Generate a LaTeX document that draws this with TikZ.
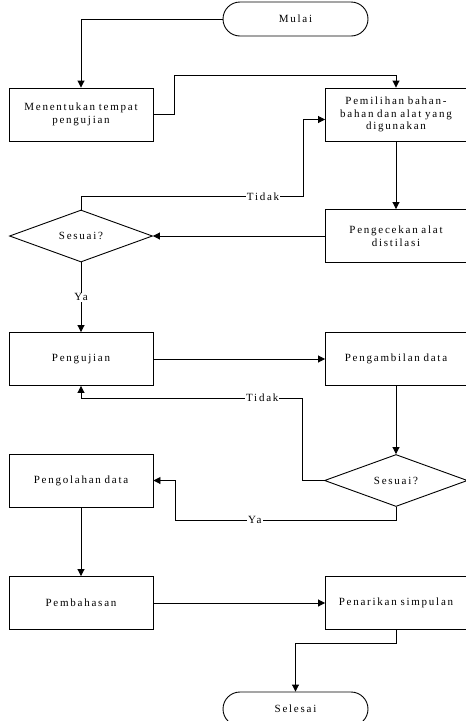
\documentclass[tikz,border=0pt]{standalone}
\usepackage{fontspec}
\setmainfont{Liberation Serif}[LetterSpace=16,WordSpace=1.8]
\usetikzlibrary{arrows.meta}
\usetikzlibrary{positioning}
\usetikzlibrary{shapes.geometric}
\usetikzlibrary{calc}
\tikzset{%
    every node/.style={font={\fontsize{11}{12.8}\selectfont}},
    box/.style={draw, rectangle, align=center, minimum height=53pt, inner sep=2pt, line width=0.9pt},
    lbox/.style={box, minimum width=144pt, text width=136pt},
    rbox/.style={box, minimum width=141pt, text width=137pt},
    terminal/.style={draw, rectangle, rounded corners=17pt, minimum width=145pt, minimum height=34pt, line width=0.9pt},
    decide/.style={draw, diamond, aspect=2.75, inner sep=0pt, minimum width=143pt, minimum height=52pt, line width=0.9pt},
    flow/.style={-{Triangle[length=7pt,width=7pt]}, line width=0.9pt},
    lbl/.style={fill=white, inner sep=1pt},
}

\begin{document}
\begin{tikzpicture}[x=1pt,y=-1pt]
\useasboundingbox (0,0) rectangle (466,721);
\node (mulai) [terminal] at (295.5,19) {Mulai};
\node (tentukan) [lbox] at (81,114.5) {Menentukan tempat\\pengujian};
\node (pilih) [rbox] at (396,114.5) {Pemilihan bahan-\\bahan dan alat yang\\digunakan};
\node (cek) [rbox] at (396,236) {Pengecekan alat\\distilasi};
\node (sesuai1) [decide] at (81,236) {Sesuai?};
\node (uji) [lbox] at (81,359) {Pengujian};
\node (ambil) [rbox] at (396,359) {Pengambilan data};
\node (sesuai2) [decide] at (396,480.5) {Sesuai?};
\node (olah) [lbox] at (81,480.5) {Pengolahan data};
\node (bahas) [lbox] at (81,603) {Pembahasan};
\node (tarik) [rbox] at (396,603) {Penarikan simpulan};
\node (selesai) [terminal] at (295.5,709) {Selesai};
\draw [flow] (mulai.west) -| (tentukan.north);
\draw [flow] (tentukan.east) -- ++(21,0) |- ($(pilih.north)+(0,-12)$) -- (pilih.north);
\draw [flow] (pilih) -- (cek);
\draw [flow] (cek.west) -- (sesuai1.east);
\draw [flow] (sesuai1.north) -- ++(0,-13) -| ($(pilih.west)+(-22,5)$)
    node [lbl, pos=0.41] {Tidak} -- ($(pilih.west)+(0,5)$);
\draw [flow] (sesuai1.south) -- (uji.north) node [lbl, midway] {Ya};
\draw [flow] (uji.east) -- (ambil.west);
\draw [flow] (ambil) -- (sesuai2);
\draw [flow] (sesuai2.west) -- ++(-22,0) |- ($(uji.south)+(0,12)$)
    node [lbl, pos=0.59] {Tidak} -- (uji.south);
\draw [flow] (sesuai2.south) -- ++(0,13) -| ($(olah.east)+(22,0)$)
    node [lbl, pos=0.32] {Ya} -- (olah.east);
\draw [flow] (olah) -- (bahas);
\draw [flow] (bahas.east) -- (tarik.west);
\draw [flow] (tarik.south) -- ++(0,13) -| (selesai.north);
\end{tikzpicture}
\end{document}
